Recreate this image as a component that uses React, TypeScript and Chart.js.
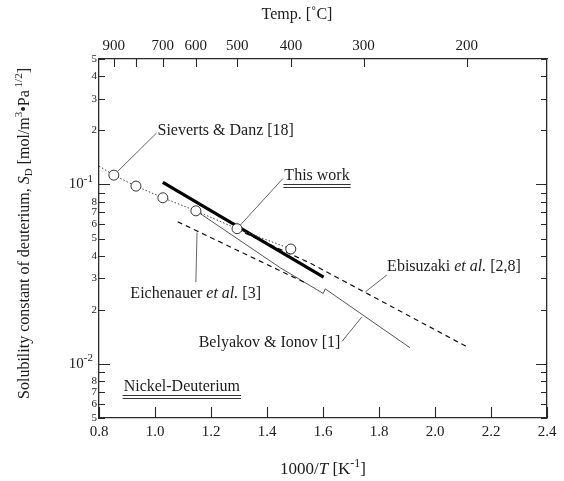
import React, { useEffect, useRef } from "react";
import { Chart, registerables } from "chart.js";
Chart.register(...registerables);

// ---------- data ----------
const sievertsX = [0.8, 0.853, 0.932, 1.028, 1.146, 1.293, 1.485];
const sievertsY = [0.1265, 0.1127, 0.0979, 0.0843, 0.0713, 0.0567, 0.0437];
const sievertsMarker = [false, true, true, true, true, true, true];

const thisWorkX = [1.028, 1.602];
const thisWorkY = [0.1026, 0.0305];

const eichenauerX = [1.081, 1.537];
const eichenauerY = [0.062, 0.0283];

const ebisuzakiX = [1.293, 1.555, 2.114];
const ebisuzakiY = [0.0562, 0.0364, 0.01247];

const belyakovX = [1.147, 1.448, 1.601, 1.608, 1.911];
const belyakovY = [0.0713, 0.0343, 0.0247, 0.0262, 0.0123];

const bottomTicks = [0.8, 1.0, 1.2, 1.4, 1.6, 1.8, 2.0, 2.2, 2.4];
const tempValues = [900, 800, 700, 600, 500, 400, 300, 200];
const tempLabels = ["900", "", "700", "600", "500", "400", "300", "200"];

const yTicks = [
  0.5, 0.4, 0.3, 0.2, 0.1, 0.09, 0.08, 0.07, 0.06, 0.05, 0.04, 0.03, 0.02,
  0.01, 0.009, 0.008, 0.007, 0.006, 0.005,
];
const yLabels = [
  "5", "4", "3", "2", "", "", "8", "7", "6", "5", "4", "3", "2",
  "", "", "8", "7", "6", "5",
];
const yDecades = [0.1, 0.01];
const yDecadeExp = ["-1", "-2"];

// ---------- styling / layout ----------
const FONT = "'Liberation Serif', 'DejaVu Serif', 'Times New Roman', serif";
const INK = "#1c1c1c";

type Seg = { t: string; it?: boolean; sup?: boolean; sub?: boolean };

type Annot = {
  segs: Seg[];
  at: [number, number];
  underline?: boolean;
  leader?: [number, number][];
};

const annotations: Annot[] = [
  { segs: [{ t: "Sieverts & Danz [18]" }], at: [1.009, 0.1978], leader: [[0.853, 0.1127], [1.005, 0.193]] },
  { segs: [{ t: "This work" }], at: [1.462, 0.1119], underline: true, leader: [[1.293, 0.0567], [1.457, 0.108]] },
  { segs: [{ t: "Eichenauer " }, { t: "et al.", it: true }, { t: " [3]" }], at: [0.912, 0.0246], leader: [[1.15, 0.054], [1.146, 0.0286]] },
  { segs: [{ t: "Ebisuzaki " }, { t: "et al.", it: true }, { t: " [2,8]" }], at: [1.829, 0.03484], leader: [[1.751, 0.0252], [1.828, 0.0313]] },
  { segs: [{ t: "Belyakov & Ionov [1]" }], at: [1.156, 0.0132], leader: [[1.668, 0.01336], [1.739, 0.0183]] },
  { segs: [{ t: "Nickel-Deuterium" }], at: [0.888, 0.00745], underline: true },
];

const yTitle: Seg[] = [
  { t: "Solubility constant of deuterium, " },
  { t: "S", it: true },
  { t: "D", sub: true },
  { t: " [mol/m" },
  { t: "3", sup: true },
  { t: "\u2022Pa" },
  { t: " 1/2", sup: true },
  { t: "]" },
];
const xTitle: Seg[] = [{ t: "1000/" }, { t: "T", it: true }, { t: " [K" }, { t: "-1", sup: true }, { t: "]" }];
const topTitle: Seg[] = [{ t: "Temp. [\u02DAC]" }];

function segFont(s: Seg, size: number) {
  const sz = s.sup || s.sub ? Math.round(size * 0.7) : size;
  return `${s.it ? "italic " : ""}${sz}px ${FONT}`;
}
function richWidth(ctx: CanvasRenderingContext2D, segs: Seg[], size: number) {
  let w = 0;
  for (const s of segs) {
    ctx.font = segFont(s, size);
    w += ctx.measureText(s.t).width;
  }
  return w;
}
function drawRich(
  ctx: CanvasRenderingContext2D,
  segs: Seg[],
  x: number,
  y: number,
  size: number,
  align: "left" | "center" | "right"
) {
  const total = richWidth(ctx, segs, size);
  let cx = align === "center" ? x - total / 2 : align === "right" ? x - total : x;
  ctx.textBaseline = "middle";
  ctx.textAlign = "left";
  for (const s of segs) {
    ctx.font = segFont(s, size);
    const dy = s.sup ? -size * 0.36 : s.sub ? size * 0.28 : 0;
    ctx.fillText(s.t, cx, y + dy);
    cx += ctx.measureText(s.t).width;
  }
  return total;
}

const toTempPos = (t: number) => 1000 / (t + 273.15);

const pts = (xs: number[], ys: number[]) => xs.map((x, i) => ({ x, y: ys[i] }));

const framePlugin = {
  id: "frameAndNotes",
  beforeDatasetsDraw(chart: any) {
    const { ctx, scales } = chart;
    ctx.save();
    ctx.strokeStyle = "#555";
    ctx.lineWidth = 0.9;
    for (const a of annotations) {
      if (!a.leader) continue;
      ctx.beginPath();
      a.leader.forEach(([vx, vy], i) => {
        const px = scales.x.getPixelForValue(vx);
        const py = scales.y.getPixelForValue(vy);
        if (i === 0) ctx.moveTo(px, py);
        else ctx.lineTo(px, py);
      });
      ctx.stroke();
    }
    ctx.restore();
  },
  afterDraw(chart: any) {
    const { ctx, chartArea: a, scales } = chart;
    ctx.save();
    // inward tick marks
    ctx.strokeStyle = "#2a2a2a";
    ctx.lineWidth = 1.1;
    ctx.beginPath();
    for (const v of bottomTicks) {
      const px = Math.round(scales.x.getPixelForValue(v)) + 0.5;
      ctx.moveTo(px, a.bottom);
      ctx.lineTo(px, a.bottom - 11);
    }
    for (const t of tempValues) {
      const px = Math.round(scales.x2.getPixelForValue(toTempPos(t))) + 0.5;
      ctx.moveTo(px, a.top);
      ctx.lineTo(px, a.top + 8);
    }
    for (const v of yTicks) {
      const py = Math.round(scales.y.getPixelForValue(v)) + 0.5;
      const len = yDecades.includes(v) ? 11 : 6;
      ctx.moveTo(a.left, py);
      ctx.lineTo(a.left + len, py);
      ctx.moveTo(a.right, py);
      ctx.lineTo(a.right - len, py);
    }
    ctx.stroke();

    ctx.fillStyle = INK;
    // decade labels 10^-1, 10^-2
    yDecades.forEach((v, i) => {
      const py = scales.y.getPixelForValue(v);
      drawRich(ctx, [{ t: "10" }, { t: yDecadeExp[i], sup: true }], a.left - 6, py, 15, "right");
    });

    // annotations
    for (const an of annotations) {
      const px = scales.x.getPixelForValue(an.at[0]);
      const py = scales.y.getPixelForValue(an.at[1]);
      const w = drawRich(ctx, an.segs, px, py, 16, "left");
      if (an.underline) {
        ctx.strokeStyle = "#333";
        ctx.lineWidth = 1;
        ctx.beginPath();
        ctx.moveTo(px - 1, Math.round(py + 8) + 0.5);
        ctx.lineTo(px + w + 1, Math.round(py + 8) + 0.5);
        ctx.moveTo(px - 1, Math.round(py + 11) + 0.5);
        ctx.lineTo(px + w + 1, Math.round(py + 11) + 0.5);
        ctx.stroke();
      }
    }

    // axis titles
    drawRich(ctx, xTitle, (a.left + a.right) / 2, chart.height - 11, 17, "center");
    drawRich(ctx, topTitle, (a.left + a.right) / 2 - 26, 15, 16, "center");
    ctx.save();
    ctx.translate(25, (a.top + a.bottom) / 2 - 5);
    ctx.rotate(-Math.PI / 2);
    drawRich(ctx, yTitle, 0, 0, 16, "center");
    ctx.restore();
    ctx.restore();
  },
};

export default function App() {
  const ref = useRef<HTMLCanvasElement | null>(null);

  useEffect(() => {
    document.body.style.margin = "0";
    const canvas = ref.current;
    if (!canvas) return;
    const borderCfg = { display: true, color: "#2a2a2a", width: 1.3 };
    const gridCfg = { display: true, drawOnChartArea: false, drawTicks: false };
    const chart = new Chart(canvas, {
      type: "line",
      data: {
        datasets: [
          {
            label: "Sieverts & Danz [18]",
            data: pts(sievertsX, sievertsY),
            borderColor: "#444",
            borderWidth: 1,
            borderDash: [1.5, 2],
            pointRadius: sievertsMarker.map((m) => (m ? 5 : 0)),
            pointBackgroundColor: "#fff",
            pointBorderColor: "#333",
            pointBorderWidth: 1,
            tension: 0,
          },
          {
            label: "This work",
            data: pts(thisWorkX, thisWorkY),
            borderColor: "#000",
            borderWidth: 3.2,
            pointRadius: 0,
          },
          {
            label: "Eichenauer et al. [3]",
            data: pts(eichenauerX, eichenauerY),
            borderColor: "#111",
            borderWidth: 1.2,
            borderDash: [5, 4],
            pointRadius: 0,
          },
          {
            label: "Ebisuzaki et al. [2,8]",
            data: pts(ebisuzakiX, ebisuzakiY),
            borderColor: "#111",
            borderWidth: 1.2,
            borderDash: [5, 4],
            pointRadius: 0,
          },
          {
            label: "Belyakov & Ionov [1]",
            data: pts(belyakovX, belyakovY),
            borderColor: "#555",
            borderWidth: 1,
            pointRadius: 0,
          },
        ],
      },
      options: {
        animation: false,
        responsive: false,
        devicePixelRatio: 1,
        parsing: false as any,
        layout: { padding: 0 },
        plugins: { legend: { display: false }, tooltip: { enabled: false } },
        scales: {
          x: {
            type: "linear",
            position: "bottom",
            min: 0.8,
            max: 2.4,
            afterBuildTicks: (s: any) => {
              s.ticks = bottomTicks.map((v) => ({ value: v }));
            },
            afterFit: (s: any) => {
              s.height = 63;
            },
            ticks: {
              autoSkip: false,
              maxRotation: 0,
              padding: 5,
              color: INK,
              font: { family: FONT, size: 15 },
              callback: (v: any) => Number(v).toFixed(1),
            },
            grid: gridCfg,
            border: borderCfg,
          },
          x2: {
            type: "linear",
            position: "top",
            min: 0.8,
            max: 2.4,
            afterBuildTicks: (s: any) => {
              s.ticks = tempValues.map((t) => ({ value: toTempPos(t) }));
            },
            afterFit: (s: any) => {
              s.height = 59;
            },
            ticks: {
              autoSkip: false,
              maxRotation: 0,
              padding: 4,
              color: INK,
              font: { family: FONT, size: 15 },
              callback: (_v: any, i: number) => tempLabels[i],
            },
            grid: gridCfg,
            border: borderCfg,
          },
          y: {
            type: "logarithmic",
            position: "left",
            min: 0.005,
            max: 0.5,
            afterBuildTicks: (s: any) => {
              s.ticks = yTicks.map((v) => ({ value: v }));
            },
            afterFit: (s: any) => {
              s.width = 99;
            },
            ticks: {
              autoSkip: false,
              padding: 2,
              color: INK,
              font: { family: FONT, size: 11 },
              callback: (_v: any, i: number) => yLabels[i],
            },
            grid: gridCfg,
            border: borderCfg,
          },
          y2: {
            type: "logarithmic",
            position: "right",
            min: 0.005,
            max: 0.5,
            afterBuildTicks: (s: any) => {
              s.ticks = yTicks.map((v) => ({ value: v }));
            },
            afterFit: (s: any) => {
              s.width = 17;
            },
            ticks: { display: false },
            grid: gridCfg,
            border: borderCfg,
          },
        },
      } as any,
      plugins: [framePlugin],
    });
    return () => chart.destroy();
  }, []);

  return (
    <div style={{ width: 564, height: 481, background: "#fff" }}>
      <canvas ref={ref} width={564} height={481} style={{ width: 564, height: 481, display: "block" }} />
    </div>
  );
}
